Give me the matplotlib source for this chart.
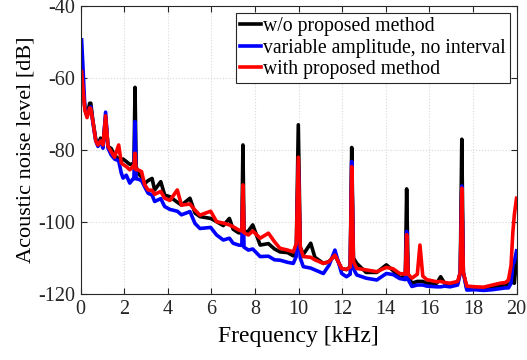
import numpy as np
import matplotlib
matplotlib.use('Agg')
import matplotlib.pyplot as plt

plt.rcParams['font.family'] = ['Liberation Serif', 'DejaVu Serif']
plt.rcParams['axes.unicode_minus'] = False

# frequency grid [kHz] shared by the three spectra
freq = [0.05, 0.12, 0.2, 0.3, 0.42, 0.47, 0.57, 0.7, 0.8, 0.92,
        1.03, 1.15, 1.26, 1.41, 1.56, 1.75, 1.87, 1.95, 2.1, 2.26,
        2.41, 2.45, 2.5, 2.55, 2.64, 2.8, 2.94, 3.1, 3.28, 3.4,
        3.68, 3.86, 4.1, 4.44, 4.63, 5.02, 5.25, 5.48, 5.97, 6.24,
        6.55, 6.83, 7.0, 7.25, 7.4, 7.45, 7.5, 7.7, 7.9, 8.24,
        8.62, 8.9, 9.15, 9.5, 9.76, 9.9, 9.99, 10.08, 10.22, 10.56,
        10.75, 11.14, 11.4, 11.67, 11.98, 12.2, 12.37, 12.44, 12.52, 12.67,
        13.1, 13.59, 14.03, 14.34, 14.64, 14.9, 14.96, 15.03, 15.2, 15.45,
        15.57, 15.7, 15.88, 16.34, 16.52, 16.7, 16.95, 17.3, 17.42, 17.49,
        17.56, 17.72, 18.1, 18.49, 18.9, 19.25, 19.5, 19.63, 19.75, 19.83,
        19.9, 20.0]

# w/o proposed method
lvl_without = [-57.5, -63, -68.5, -70.5, -67, -67, -72, -77, -78.5, -76.7,
               -78.6, -71, -79, -79.6, -81.5, -82.5, -83, -82.5, -83.2, -84,
               -83.8, -84, -62.6, -84.5, -86.5, -87.5, -89.3, -88.5, -87.9, -91.1,
               -88.8, -92.5, -93, -94.5, -95.3, -93.4, -97.5, -98.5, -99, -99.9,
               -101, -99, -102, -103, -103, -78.6, -103, -102.5, -100.8, -106.4,
               -106, -107.5, -108.3, -108.5, -109.4, -107, -73, -107, -109, -105.9,
               -109.8, -111.5, -111, -109.2, -113, -113.2, -112.5, -79.3, -110, -111.5,
               -114, -114, -111.9, -113.5, -115.5, -115, -90.8, -115, -117, -116.5,
               -116.5, -116.5, -117, -117, -115.2, -117, -117.3, -117, -114, -77,
               -114, -118.5, -118.3, -118.5, -118, -117.8, -117.5, -117.3, -117, -114,
               -117, -110]

# variable amplitude, no interval
lvl_variable = [-49.4, -58, -68.5, -70.5, -68.5, -68, -72.5, -77.5, -79, -77.5,
                -79.5, -69.5, -79.5, -81.4, -82.5, -83, -86.4, -87.8, -87, -89.2,
                -88, -88, -72.1, -88, -88.1, -88.5, -90.2, -92, -92.5, -94.3,
                -93.5, -95.7, -96.5, -97, -98, -97.1, -100.4, -101.8, -101.5, -103.6,
                -105, -104.5, -105.9, -106.4, -106.5, -90, -107, -107.8, -107.5, -109.6,
                -109.5, -110.5, -110.6, -111.2, -111.5, -109.5, -84, -110, -112.4, -112.8,
                -113.3, -114.3, -112, -107.8, -114.3, -115.2, -114.5, -83.2, -113, -114.7,
                -115.6, -116.1, -114.3, -114.6, -115.7, -116, -102.6, -116, -117.9, -117.5,
                -117.5, -117.5, -117.8, -118, -118, -117.8, -118, -117.5, -114, -90,
                -114, -118.9, -118.8, -119, -118.8, -118.5, -118.3, -118.3, -117, -112,
                -111, -108]

# with proposed method
lvl_with = [-58.2, -63.5, -69, -71, -68.3, -68.5, -72.1, -77.5, -78.6, -77.5,
            -78.6, -70.5, -79, -80.5, -82, -78.6, -83.6, -84, -84.6, -85.5,
            -84.5, -85, -80.9, -85.5, -85.5, -86, -89.6, -91.1, -91.2, -92.3,
            -91.5, -93.4, -94, -91.1, -95.3, -95, -96.7, -98.1, -97, -99.9,
            -100.3, -100.8, -101.3, -102.2, -102.5, -89.7, -103, -103.6, -102.5, -104.5,
            -103.1, -105.5, -107.3, -107.8, -108.3, -106, -82, -107, -109.6, -109.8,
            -110.5, -111.5, -111, -109.2, -112.9, -113.2, -112.5, -84.6, -111, -112.9,
            -113.3, -113.8, -112.6, -113, -114.3, -114.5, -103.5, -114.5, -115.6, -114.5,
            -106.4, -115, -116, -116.6, -116.5, -116.8, -117, -116.5, -114, -90.6,
            -114, -117.8, -118, -118.1, -117.5, -117, -116.8, -116.1, -112, -103,
            -98, -93.4]

labels = ['w/o proposed method', 'variable amplitude, no interval',
          'with proposed method']

fig = plt.figure(figsize=(5.27, 3.6), dpi=100)
ax = fig.add_axes([0.1528, 0.1833, 0.8273, 0.8])

ax.plot(freq, lvl_without, color='black', lw=2.6, label=labels[0])
ax.plot(freq, lvl_variable, color='#0000ff', lw=2.6, label=labels[1])
ax.plot(freq, lvl_with, color='#ff0000', lw=2.6, label=labels[2])

ax.set_xlim(0, 20)
ax.set_ylim(-120, -40)
ax.set_xticks(np.arange(0, 21, 2))
ax.set_yticks(np.arange(-120, -39, 20))
ax.grid(True, color='#d9d9d9', linestyle=':', linewidth=0.8)
ax.tick_params(direction='in', top=True, right=True, length=4,
               labelsize=14.5, width=0.8, colors='#262626', pad=4)
for s in ax.spines.values():
    s.set_color('#262626')
    s.set_linewidth(0.8)

ax.set_xlabel('Frequency [kHz]', fontsize=17, labelpad=5)
ax.set_ylabel('Acoustic noise level [dB]', fontsize=16, labelpad=2)

leg = ax.legend(loc='upper right', bbox_to_anchor=(0.985, 0.976),
                fontsize=14.2, fancybox=False, edgecolor='#262626',
                framealpha=1, handlelength=1.1, handletextpad=0.1,
                labelspacing=0.14, borderpad=0.2, borderaxespad=0)
leg.get_frame().set_linewidth(0.8)

plt.savefig('out.png', dpi=100)
